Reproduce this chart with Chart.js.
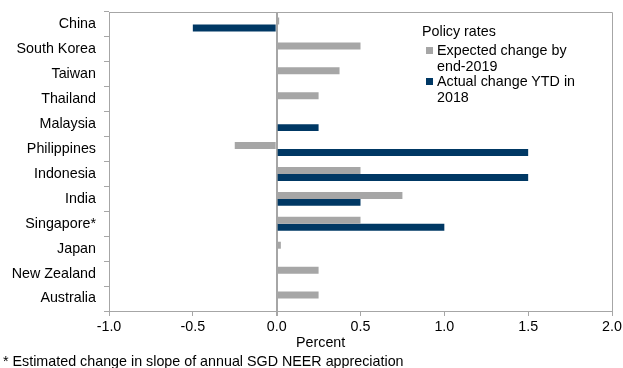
<!DOCTYPE html>
<html>
<head>
<meta charset="utf-8">
<script src="https://cdn.jsdelivr.net/npm/chart.js@4/dist/chart.umd.min.js"></script>
<style>
  html, body { margin: 0; padding: 0; background: #fff; }
  #wrap { position: relative; width: 623px; height: 368px; font-family: "Liberation Sans", Arial, sans-serif; color: #000; }
  #c { position: absolute; left: 0; top: 0; }
  .t { position: absolute; font-size: 14.3px; line-height: 16px; white-space: nowrap; }
  .sw { position: absolute; width: 7px; height: 7px; }
</style>
</head>
<body>
<div id="wrap">
  <canvas id="c" width="623" height="368"></canvas>
  <div class="t" style="left:422px; top:23px;">Policy rates</div>
  <div class="sw" style="left:426px; top:47px; background:#A6A6A6;"></div>
  <div class="t" style="left:437px; top:42px;">Expected change by<br>end-2019</div>
  <div class="sw" style="left:426px; top:78px; background:#003864;"></div>
  <div class="t" style="left:437px; top:73px;">Actual change YTD in<br>2018</div>
  <div class="t" style="left:296px; top:334px;">Percent</div>
  <div class="t" style="left:3px; top:353px;">* Estimated change in slope of annual SGD NEER appreciation</div>
</div>
<script>
const categories = ["China", "South Korea", "Taiwan", "Thailand", "Malaysia", "Philippines", "Indonesia", "India", "Singapore*", "Japan", "New Zealand", "Australia"];
const expectedChange = [0.015, 0.5, 0.375, 0.25, 0, -0.25, 0.5, 0.75, 0.5, 0.025, 0.25, 0.25];
const actualChange = [-0.5, 0, 0, 0, 0.25, 1.5, 1.5, 0.5, 1.0, 0, 0, 0];
const seriesNames = ["Expected change by end-2019", "Actual change YTD in 2018"];
const xMin = -1.0, xMax = 2.0, xStep = 0.5;

const AXIS = '#A6A6A6';
const frame = {
  id: 'frame',
  afterDraw(chart) {
    const a = chart.chartArea, ctx = chart.ctx;
    ctx.save();
    ctx.strokeStyle = AXIS;
    ctx.lineWidth = 1;
    ctx.beginPath();
    ctx.moveTo(a.left, a.top + 0.5);
    ctx.lineTo(a.right + 0.5, a.top + 0.5);
    ctx.lineTo(a.right + 0.5, a.bottom);
    ctx.stroke();
    ctx.restore();
  }
};

new Chart(document.getElementById('c'), {
  type: 'bar',
  data: {
    labels: categories,
    datasets: [
      { label: seriesNames[0], data: expectedChange, backgroundColor: '#A6A6A6', categoryPercentage: 0.56, barPercentage: 1.0 },
      { label: seriesNames[1], data: actualChange, backgroundColor: '#003864', categoryPercentage: 0.56, barPercentage: 1.0 }
    ]
  },
  options: {
    indexAxis: 'y',
    responsive: false,
    animation: false,
    devicePixelRatio: 1,
    layout: { padding: { top: 12, right: 11, left: 0, bottom: 0 } },
    plugins: { legend: { display: false }, tooltip: { enabled: false } },
    scales: {
      x: {
        min: xMin, max: xMax,
        ticks: { stepSize: xStep, color: '#000', font: { family: 'Liberation Sans', size: 14.3 }, padding: 2,
          callback: v => Number(v).toFixed(1) },
        grid: {
          color: c => (c.tick && c.tick.value === 0) ? '#A6A6A6' : 'rgba(0,0,0,0)',
          lineWidth: c => (c.tick && c.tick.value === 0) ? 2 : 1,
          tickColor: AXIS, tickLength: 5, drawTicks: true
        },
        border: { color: AXIS, width: 1 },
        afterFit: s => { s.height = 57; s.paddingLeft = 0; s.paddingRight = 0; }
      },
      y: {
        ticks: { color: '#000', font: { family: 'Liberation Sans', size: 14.3 }, padding: 8 },
        grid: { drawOnChartArea: false, tickColor: AXIS, tickLength: 5, offset: true },
        border: { color: AXIS, width: 1 },
        afterFit: s => { s.width = 109; s.paddingTop = 0; s.paddingBottom = 0; }
      }
    }
  },
  plugins: [frame]
});
</script>
</body>
</html>
